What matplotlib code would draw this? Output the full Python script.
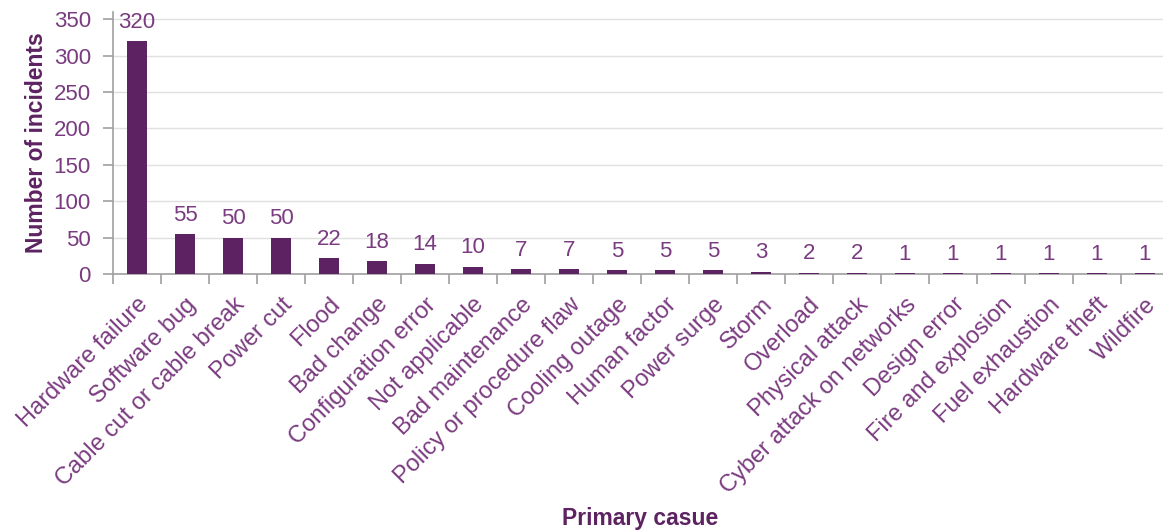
import matplotlib.pyplot as plt
import numpy as np

causes = ["Hardware failure", "Software bug", "Cable cut or cable break", "Power cut",
          "Flood", "Bad change", "Configuration error", "Not applicable",
          "Bad maintenance", "Policy or procedure flaw", "Cooling outage",
          "Human factor", "Power surge", "Storm", "Overload", "Physical attack",
          "Cyber attack on networks", "Design error", "Fire and explosion",
          "Fuel exhaustion", "Hardware theft", "Wildfire"]
incidents = [320, 55, 50, 50, 22, 18, 14, 10, 7, 7, 5, 5, 5, 3, 2, 2, 1, 1, 1, 1, 1, 1]
yticks = [0, 50, 100, 150, 200, 250, 300, 350]

bar_col = "#5d2261"
text_col = "#7a3b80"
axis_col = "#a0a0a0"

plt.rcParams["font.family"] = ["Liberation Sans", "DejaVu Sans"]

fig = plt.figure(figsize=(11.63, 5.31), dpi=100)
ax = fig.add_axes([113 / 1163, 257 / 531, 1056 / 1163, 262 / 531])

x = np.arange(len(causes))
ax.bar(x, incidents, width=0.4, color=bar_col, zorder=3)
for xi, v in zip(x, incidents):
    ax.annotate(str(v), (xi, v), xytext=(0, 6), textcoords="offset points",
                ha="center", va="bottom", fontsize=16, color=text_col)

ax.set_xlim(-0.5, len(causes) - 0.5)
ax.set_ylim(0, 360)
ax.set_yticks(yticks)
ax.yaxis.grid(True, color="#e0e0e0", linewidth=1, zorder=0)
ax.set_axisbelow(True)

ax.set_xticks(x)
ax.set_xticklabels(causes, rotation=45, ha="right", va="top",
                   rotation_mode="anchor", fontsize=17, color=text_col)
ax.set_xticks(np.arange(len(causes) + 1) - 0.5, minor=True)
ax.tick_params(axis="x", which="major", length=0, pad=14)
ax.tick_params(axis="x", which="minor", length=7, color=axis_col, width=1.2)
ax.tick_params(axis="y", length=7, color=axis_col, width=1.2, labelsize=16,
               labelcolor=text_col, pad=9)

for s in ["top", "right"]:
    ax.spines[s].set_visible(False)
for s in ["left", "bottom"]:
    ax.spines[s].set_color(axis_col)
    ax.spines[s].set_linewidth(1.2)

ax.set_ylabel("Number of incidents", fontsize=16.5, fontweight="bold",
              color=bar_col, labelpad=4)
fig.text(640 / 1163, 1 - 518 / 531, "Primary casue", fontsize=16.5, fontweight="bold",
         color=bar_col, ha="center", va="center")

fig.savefig("out.png", dpi=100)
